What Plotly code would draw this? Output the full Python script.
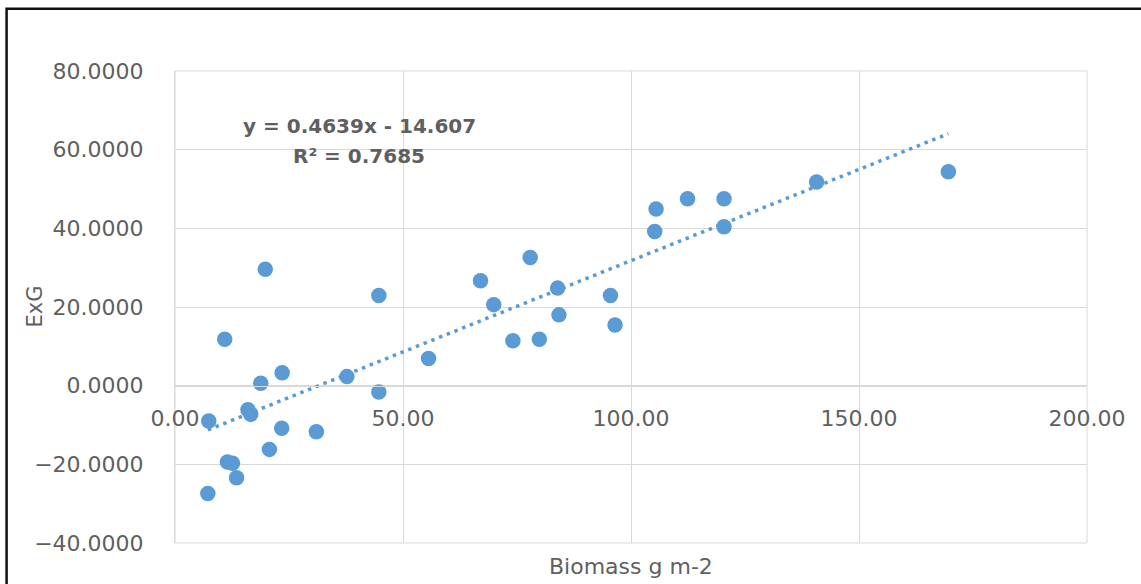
import plotly.graph_objects as go

# Biomass (g m-2) and ExG index for each sampled plot
biomass = [7.2, 7.4, 10.9, 11.5, 12.6, 13.5, 16.0, 16.6, 18.8, 19.8, 20.7,
           23.5, 23.4, 31.0, 37.7, 44.7, 44.7, 55.6, 67.0, 69.9, 74.1, 77.9,
           79.9, 83.9, 84.2, 95.5, 96.5, 105.5, 105.2, 112.4, 120.4, 120.4,
           140.7, 169.6]
exg = [-27.4, -9.0, 11.8, -19.4, -19.7, -23.4, -6.1, -7.3, 0.6, 29.6, -16.2,
       3.3, -10.8, -11.7, 2.3, 22.9, -1.6, 6.9, 26.7, 20.6, 11.4, 32.6,
       11.8, 24.8, 18.0, 22.9, 15.4, 44.9, 39.2, 47.5, 47.5, 40.4,
       51.8, 54.4]

# Linear trendline coefficients
slope = 0.4639
intercept = -14.607
r_squared = 0.7685

x_ticks = [0, 50, 100, 150, 200]
y_ticks = [-40, -20, 0, 20, 40, 60, 80]

BLUE = "#5b9bd5"
TEXT = "#5f5f5f"
GRID = "#d9d9d9"
FONT = "DejaVu Sans"

W, H = 1141, 584
ML, MR, MT, MB = 174.5, 54, 71, 41
PW, PH = W - ML - MR, H - MT - MB

x_ends = [min(biomass), max(biomass)]
y_ends = [slope * v + intercept for v in x_ends]

fig = go.Figure()
fig.add_trace(go.Scatter(
    x=x_ends, y=y_ends, mode="lines",
    line=dict(color=BLUE, width=3.5, dash="3.5px,4.8px"),
    hoverinfo="skip", showlegend=False,
))
fig.add_trace(go.Scatter(
    x=biomass, y=exg, mode="markers",
    marker=dict(color=BLUE, size=15.5, line=dict(width=0)),
    showlegend=False,
))

y_lo, y_hi = y_ticks[0], y_ticks[-1]

fig.update_layout(
    width=W, height=H,
    margin=dict(l=ML, r=MR, t=MT, b=MB, pad=0),
    paper_bgcolor="white", plot_bgcolor="white",
    font=dict(family=FONT, color=TEXT, size=22),
    xaxis=dict(
        range=[x_ticks[0], x_ticks[-1]],
        tickvals=x_ticks, tickformat=".2f",
        showgrid=True, gridcolor=GRID, gridwidth=1,
        zeroline=False,
        showline=True, linecolor=GRID, linewidth=1,
        anchor="free", position=(0 - y_lo) / (y_hi - y_lo),
        ticks="", ticklabelstandoff=13,
        tickfont=dict(family=FONT, size=22, color=TEXT),
    ),
    yaxis=dict(
        range=[y_lo, y_hi],
        tickvals=y_ticks, tickformat=".4f",
        showgrid=True, gridcolor=GRID, gridwidth=1,
        zeroline=False,
        showline=True, linecolor=GRID, linewidth=1,
        ticks="", ticklabelstandoff=26,
        tickfont=dict(family=FONT, size=22, color=TEXT),
    ),
    annotations=[
        dict(text="<b>y = %.4fx - %.3f</b>" % (slope, -intercept),
             x=40.4, y=66.0, xref="x", yref="y", showarrow=False,
             xanchor="center", yanchor="middle",
             font=dict(family=FONT, size=20, color=TEXT)),
        dict(text="<b>R² = %.4f</b>" % r_squared,
             x=40.4, y=58.4, xref="x", yref="y", showarrow=False,
             xanchor="center", yanchor="middle",
             font=dict(family=FONT, size=20, color=TEXT)),
        dict(text="Biomass g m-2", x=0.5, y=0, xref="paper", yref="paper",
             yshift=-23, showarrow=False, xanchor="center", yanchor="middle",
             font=dict(family=FONT, size=22, color=TEXT)),
        dict(text="ExG", x=0, y=0.5, xref="paper", yref="paper",
             xshift=34 - ML, showarrow=False, textangle=-90,
             xanchor="center", yanchor="middle",
             font=dict(family=FONT, size=21, color=TEXT)),
    ],
    shapes=[
        # plot-area edge
        dict(type="rect", xref="paper", yref="paper",
             x0=0, x1=1, y0=0, y1=1,
             line=dict(color=GRID, width=1), layer="below"),
        # outer chart frame, partly running past the page edge
        dict(type="rect", xref="paper", yref="paper",
             x0=(6 - ML) / PW, x1=(W + 20 - ML) / PW,
             y0=-(H + 20 - (MT + PH)) / PH, y1=1 + (MT - 8.7) / PH,
             line=dict(color="#111111", width=2.5), layer="above"),
    ],
)

fig.write_html("out.html")
